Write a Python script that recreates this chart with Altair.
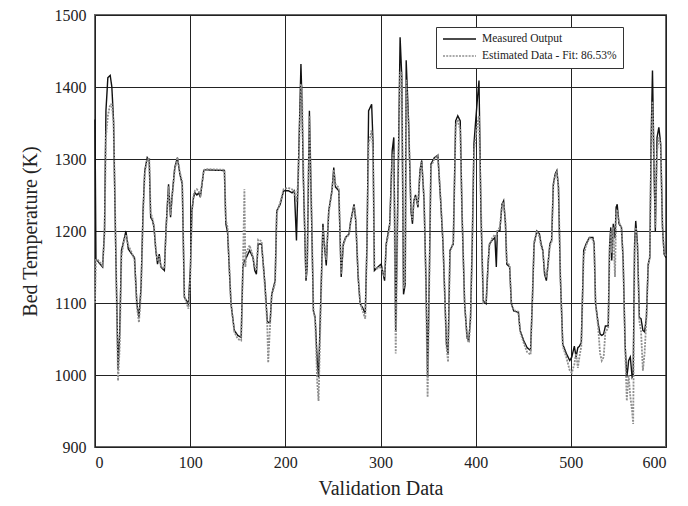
import altair as alt
import pandas as pd

x_vals = [0, 1, 3, 8, 10, 11.5, 13.5, 16, 17.7, 19.5, 21.7, 24.2, 26, 27.8, 30.3, 32.5, 35, 38.6, 41.5, 44,
          46.2, 48.4, 50.5, 52.3, 54.9, 57, 58.5, 60.3, 62, 63.9, 65.7, 67.5, 69.3, 72.9, 74.7, 77.3, 79.4, 80.9,
          83.8, 86.6, 89.2, 91.7, 93.9, 98.2, 100.3, 101.8, 103.6, 105, 107, 109, 110.7, 114.3, 116, 136, 137.5,
          139.3, 142.9, 146.4, 150, 153.6, 155.4, 157, 158, 159, 162.5, 166, 167.9, 169.6, 171.4, 175, 178.6, 181,
          182, 184, 185.7, 189.3, 191, 194.6, 198.2, 203, 207, 209.5, 211.7, 213.5, 216.4, 217.5, 218.9, 221.7,
          223, 225.3, 227.8, 229.5, 231.3, 233.5, 234.9, 237.4, 239.5, 240.9, 243, 245.6, 249, 250.9, 252.7,
          256.2, 258.7, 260.9, 263.3, 266.9, 268.7, 272.2, 274, 276.5, 278.6, 281, 284, 285.8, 287.5, 290.7,
          292.2, 293.6, 297.2, 300.7, 304.3, 306, 309.7, 312.3, 314, 316, 318.8, 320.6, 322.4, 324.2, 326, 327,
          329.6, 332, 333.6, 335, 336.8, 339.4, 341.5, 343.3, 345.8, 347.7, 349.5, 351.3, 353, 356.7, 360.3,
          363.2, 365.7, 369.3, 371, 373, 376.5, 379, 381.2, 383.8, 385.6, 388.4, 391, 392.8, 394.6, 396.4, 398.2,
          400, 402, 403.5, 405.5, 408, 411, 413, 414.5, 417.3, 420.2, 421.7, 422.8, 425.4, 427.6, 429.4, 431.3,
          432.7, 435.7, 437.5, 440, 444.9, 446.7, 450.4, 454, 457.7, 459.5, 461.4, 464.3, 467, 468.8, 470.6,
          472.4, 474.3, 476, 478, 479.8, 481.6, 483.5, 485.3, 487, 489, 491.5, 495.2, 498.9, 501, 503.7, 505.5,
          507.4, 509, 511, 513.5, 516, 519.5, 523.2, 524.5, 526, 528.8, 530.7, 532.5, 534.5, 536.3, 539.3,
          540.8, 542, 543, 544.6, 546.4, 547.6, 548.7, 550.6, 553.2, 555, 557, 558.8, 560, 560.7, 562.5, 564.4,
          565.5, 567, 568.2, 570, 572, 573.8, 575.7, 577.5, 579.4, 581.3, 583, 584.3, 585.8, 587.6, 588.8,
          590.6, 592.5, 594.4, 596.3, 598, 600]

measured = [1355, 1160, 1158, 1150, 1200, 1367, 1413, 1416, 1400, 1353, 1180, 1008, 1060, 1173, 1187, 1200, 1175,
            1168, 1163, 1099, 1080, 1122, 1228, 1284, 1302, 1298, 1219, 1215, 1205, 1173, 1154, 1168, 1150, 1145,
            1205, 1265, 1219, 1247, 1288, 1302, 1279, 1265, 1108, 1099, 1150, 1228, 1247, 1253, 1250, 1253, 1247,
            1284, 1285, 1284, 1210, 1198, 1099, 1062, 1055, 1052, 1150, 1159, 1160, 1163, 1173, 1163, 1145, 1140,
            1182, 1182, 1126, 1075, 1073, 1073, 1112, 1131, 1228, 1237, 1256, 1256, 1253, 1256, 1187, 1275, 1432,
            1380, 1275, 1131, 1150, 1367, 1205, 1089, 1080, 1020, 997, 1112, 1210, 1182, 1152, 1228, 1256, 1288,
            1261, 1256, 1136, 1182, 1191, 1196, 1214, 1237, 1214, 1136, 1099, 1094, 1085, 1182, 1367, 1376, 1321,
            1145, 1150, 1154, 1131, 1182, 1210, 1312, 1330, 1060, 1298, 1469, 1413, 1112, 1126, 1437, 1349, 1228,
            1210, 1242, 1250, 1233, 1284, 1298, 1242, 1136, 997, 1136, 1293, 1302, 1305, 1242, 1182, 1043, 1030,
            1173, 1182, 1353, 1360, 1353, 1228, 1099, 1052, 1048, 1080, 1182, 1321, 1353, 1386, 1409, 1228, 1103,
            1099, 1154, 1182, 1187, 1191, 1150, 1200, 1200, 1237, 1242, 1210, 1154, 1150, 1099, 1089, 1087, 1062,
            1048, 1038, 1034, 1100, 1182, 1200, 1196, 1182, 1173, 1140, 1131, 1154, 1182, 1187, 1265, 1279, 1284,
            1261, 1136, 1043, 1030, 1020, 1025, 1040, 1025, 1038, 1040, 1045, 1173, 1182, 1191, 1191, 1182, 1099,
            1071, 1057, 1055, 1057, 1068, 1068, 1182, 1205, 1159, 1210, 1190, 1233, 1237, 1210, 1205, 1159, 1043,
            997, 1010, 1020, 1025, 997, 1000, 1182, 1214, 1182, 1080, 1078, 1062, 1060, 1080, 1154, 1163, 1321,
            1423, 1275, 1200, 1330, 1344, 1321, 1205, 1168, 1163]

estimated = [1100, 1160, 1160, 1152, 1195, 1330, 1360, 1376, 1376, 1350, 1190, 992, 1040, 1165, 1185, 1195, 1180,
             1170, 1160, 1095, 1073, 1115, 1220, 1280, 1300, 1300, 1225, 1218, 1208, 1175, 1158, 1165, 1150, 1148,
             1200, 1262, 1222, 1245, 1285, 1302, 1282, 1268, 1110, 1092, 1140, 1225, 1250, 1256, 1258, 1255, 1250,
             1284, 1286, 1285, 1215, 1205, 1100, 1060, 1050, 1048, 1145, 1258, 1150, 1170, 1180, 1165, 1150, 1145,
             1188, 1186, 1120, 1070, 1017, 1070, 1110, 1128, 1225, 1240, 1258, 1260, 1258, 1255, 1240, 1270, 1404,
             1400, 1290, 1135, 1150, 1360, 1215, 1092, 1078, 990, 964, 1100, 1205, 1185, 1160, 1225, 1255, 1285,
             1265, 1260, 1140, 1180, 1190, 1195, 1212, 1235, 1218, 1140, 1100, 1090, 1078, 1180, 1320, 1340, 1310,
             1150, 1148, 1150, 1136, 1180, 1205, 1300, 1310, 1030, 1290, 1420, 1420, 1120, 1130, 1410, 1345, 1232,
             1215, 1240, 1248, 1236, 1282, 1296, 1245, 1130, 969, 1130, 1290, 1300, 1305, 1245, 1185, 1040, 1018,
             1170, 1185, 1345, 1355, 1340, 1230, 1100, 1050, 1045, 1075, 1180, 1310, 1330, 1350, 1360, 1240, 1100,
             1102, 1150, 1180, 1190, 1195, 1190, 1200, 1205, 1235, 1240, 1215, 1158, 1152, 1100, 1090, 1088, 1060,
             1045, 1032, 1028, 1100, 1185, 1200, 1192, 1178, 1172, 1145, 1135, 1150, 1180, 1185, 1262, 1278, 1282,
             1262, 1140, 1040, 1025, 1006, 1003, 1015, 1030, 1010, 1025, 1040, 1165, 1180, 1190, 1188, 1180, 1100,
             1065, 1030, 1020, 1025, 1060, 1065, 1175, 1200, 1170, 1205, 1136, 1225, 1230, 1212, 1205, 1160, 1040,
             964, 990, 1000, 970, 950, 932, 1170, 1205, 1180, 1075, 1060, 1006, 1030, 1078, 1150, 1165, 1300,
             1380, 1290, 1205, 1310, 1330, 1320, 1210, 1170, 1165]

series_names = ["Measured Output", "Estimated Data - Fit: 86.53%"]
x_ticks = [0, 100, 200, 300, 400, 500, 600]
y_ticks = [900, 1000, 1100, 1200, 1300, 1400, 1500]

rows = []
for xv, m in zip(x_vals, measured):
    rows.append({"x": xv, "T": m, "series": series_names[0]})
for xv, e in zip(x_vals, estimated):
    rows.append({"x": xv, "T": e, "series": series_names[1]})
df = pd.DataFrame(rows)

FONT = "Liberation Serif"
W, H = 571, 432

legend_cfg = dict(orient="none", legendX=341, legendY=12, direction="vertical",
                  symbolType="M-1,0H5.6", symbolSize=100, symbolStrokeWidth=1.5,
                  labelFont=FONT, labelFontSize=11.5, labelColor="#222",
                  strokeColor="#333", fillColor="white", padding=6,
                  rowPadding=5, labelOffset=28, labelLimit=300)

color = alt.Color("series:N", title=None,
                  scale=alt.Scale(domain=series_names, range=["#111111", "#8f8f8f"]),
                  legend=alt.Legend(**legend_cfg))
dash = alt.StrokeDash("series:N", title=None,
                      scale=alt.Scale(domain=series_names, range=[[1, 0], [2, 1.2]]),
                      legend=alt.Legend(**legend_cfg))

xenc = alt.X("x:Q", scale=alt.Scale(domain=[0, 600], nice=False),
             axis=alt.Axis(values=x_ticks, format="d", title="Validation Data", grid=True, ticks=False,
                           domain=False,
                           labelFont=FONT, labelFontSize=16, labelColor="#222", labelPadding=7,
                           titleFont=FONT, titleFontSize=20, titleFontWeight="normal", titleColor="#222",
                           titleX=W / 2, titleY=41, titleBaseline="middle", titleAlign="center",
                           gridColor="#222", gridWidth=1, gridOpacity=1))
yenc = alt.Y("T:Q", scale=alt.Scale(domain=[900, 1500], nice=False, zero=False),
             axis=alt.Axis(values=y_ticks, format="d", title="Bed Temperature (K)", grid=True, ticks=False,
                           domain=False,
                           labelFont=FONT, labelFontSize=16, labelColor="#222", labelPadding=9,
                           titleFont=FONT, titleFontSize=20, titleFontWeight="normal", titleColor="#222",
                           titleX=-65, titleY=H / 2, titleAngle=270, titleBaseline="middle",
                           titleAlign="center",
                           gridColor="#222", gridWidth=1, gridOpacity=1))

base = alt.Chart(df)
meas_layer = base.transform_filter(alt.datum.series == series_names[0]).mark_line(strokeWidth=1.4).encode(
    x=xenc, y=yenc, color=color, strokeDash=dash)
est_layer = base.transform_filter(alt.datum.series == series_names[1]).mark_line(strokeWidth=1.8).encode(
    x=xenc, y=yenc, color=color, strokeDash=dash)

chart = alt.layer(meas_layer, est_layer).properties(
    width=W, height=H,
    autosize=alt.AutoSizeParams(type="none"),
    padding={"left": 87, "top": 7, "right": 14, "bottom": 51},
    background="white",
).configure_view(stroke="#666", strokeWidth=2)

chart.save("out.html", embed_options={"renderer": "svg", "actions": False})
